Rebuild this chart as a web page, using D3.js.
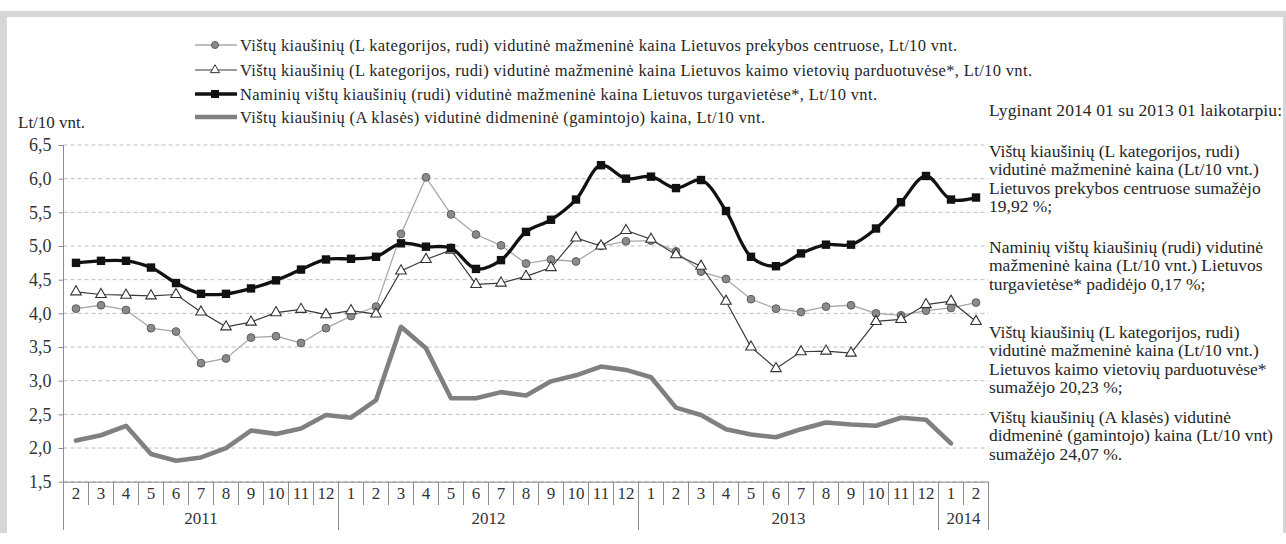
<!DOCTYPE html>
<html>
<head>
<meta charset="utf-8">
<script src="https://cdn.jsdelivr.net/npm/d3@7"></script>
<style>
  html, body { margin: 0; padding: 0; background: #fff; }
  svg { display: block; }
</style>
</head>
<body>
<svg id="chart" width="1286" height="544"></svg>
<script>
// ---------- DATA ----------
const years = [
  { year: "2011", months: [2,3,4,5,6,7,8,9,10,11,12] },
  { year: "2012", months: [1,2,3,4,5,6,7,8,9,10,11,12] },
  { year: "2013", months: [1,2,3,4,5,6,7,8,9,10,11,12] },
  { year: "2014", months: [1,2] }
];
const yTicks = [1.5, 2.0, 2.5, 3.0, 3.5, 4.0, 4.5, 5.0, 5.5, 6.0, 6.5];

const retailCentres = [4.07,4.12,4.05,3.78,3.73,3.26,3.33,3.64,3.66,3.56,3.78,
  3.96,4.10,5.18,6.02,5.47,5.17,5.01,4.74,4.80,4.77,5.00,5.07,
  5.08,4.92,4.62,4.51,4.21,4.07,4.02,4.10,4.12,4.00,3.97,4.04,
  4.08,4.16];
const ruralShops = [4.32,4.28,4.27,4.26,4.28,4.02,3.80,3.87,4.01,4.06,3.98,
  4.04,3.99,4.63,4.80,4.94,4.43,4.45,4.55,4.68,5.12,5.00,5.23,
  5.10,4.87,4.70,4.18,3.50,3.18,3.43,3.44,3.41,3.88,3.91,4.13,
  4.18,3.88];
const marketplaces = [4.75,4.78,4.78,4.68,4.45,4.29,4.29,4.37,4.49,4.65,4.80,
  4.81,4.84,5.04,4.99,4.97,4.66,4.79,5.21,5.39,5.69,6.20,6.00,
  6.03,5.86,5.98,5.52,4.84,4.70,4.89,5.02,5.02,5.26,5.65,6.04,
  5.69,5.72];
const wholesale = [2.11,2.19,2.33,1.91,1.81,1.86,2.00,2.26,2.21,2.29,2.49,
  2.45,2.71,3.80,3.48,2.74,2.74,2.83,2.78,2.99,3.08,3.21,3.16,
  3.05,2.60,2.49,2.28,2.20,2.16,2.28,2.38,2.35,2.33,2.45,2.42,
  2.07,null];

const legendLabels = [
  "Vištų kiaušinių (L kategorijos, rudi) vidutinė mažmeninė kaina Lietuvos prekybos centruose, Lt/10 vnt.",
  "Vištų kiaušinių (L kategorijos, rudi) vidutinė mažmeninė kaina Lietuvos kaimo vietovių parduotuvėse*, Lt/10 vnt.",
  "Naminių vištų kiaušinių (rudi) vidutinė mažmeninė kaina Lietuvos turgavietėse*, Lt/10 vnt.",
  "Vištų kiaušinių (A klasės) vidutinė didmeninė (gamintojo) kaina, Lt/10 vnt."
];
const yUnit = "Lt/10 vnt.";
const noteHeader = "Lyginant 2014 01 su 2013 01 laikotarpiu:";
const noteBlocks = [
  ["Vištų kiaušinių (L kategorijos, rudi)", "vidutinė mažmeninė kaina (Lt/10 vnt.)", "Lietuvos prekybos centruose sumažėjo", "19,92  %;"],
  ["Naminių vištų kiaušinių (rudi) vidutinė", "mažmeninė kaina  (Lt/10 vnt.) Lietuvos", "turgavietėse* padidėjo 0,17 %;"],
  ["Vištų kiaušinių (L kategorijos, rudi)", "vidutinė mažmeninė kaina (Lt/10 vnt.)", "Lietuvos kaimo vietovių parduotuvėse*", "sumažėjo 20,23 %;"],
  ["Vištų kiaušinių (A klasės) vidutinė", "didmeninė (gamintojo) kaina (Lt/10 vnt)", "sumažėjo 24,07 %."]
];

// ---------- LAYOUT ----------
const FONT = "'Liberation Serif', Tinos, 'Times New Roman', 'DejaVu Serif', serif";
const svg = d3.select("#chart");
const W = 1286, H = 544;
const plot = { left: 63.5, right: 988.5, top: 145, bottom: 481.7 };

// frame
const frameColor = "#d6d6d6";
svg.append("rect").attr("x", 0).attr("y", 11).attr("width", W).attr("height", 6).attr("fill", frameColor);
svg.append("rect").attr("x", 0).attr("y", 11).attr("width", 7).attr("height", 522).attr("fill", frameColor);
svg.append("rect").attr("x", W - 3).attr("y", 11).attr("width", 3).attr("height", 522).attr("fill", frameColor);

// categories
const cats = [];
years.forEach(y => y.months.forEach(m => cats.push({ year: y.year, month: m, key: y.year + "-" + m })));

const x = d3.scaleBand().domain(cats.map(c => c.key)).range([plot.left, plot.right]).padding(0);
const y = d3.scaleLinear().domain([1.5, 6.5]).range([plot.bottom, plot.top]);
const xc = i => x(cats[i].key) + x.bandwidth() / 2;

const axisColor = "#8c8c8c";

// gridlines
svg.append("g").selectAll("line").data(yTicks).join("line")
  .attr("x1", plot.left).attr("x2", plot.right)
  .attr("y1", d => y(d)).attr("y2", d => y(d))
  .attr("stroke", "#bdbdbd").attr("stroke-width", 1).attr("stroke-dasharray", "4,3");

// y axis
const yAxis = d3.axisLeft(y).tickValues(yTicks).tickSize(5).tickSizeOuter(0)
  .tickFormat(d => d.toFixed(1).replace(".", ","));
const gy = svg.append("g").attr("transform", `translate(${plot.left},0)`).call(yAxis);
gy.attr("font-family", null).attr("font-size", null);
gy.select(".domain").remove();
gy.selectAll(".tick line").attr("stroke", axisColor);
gy.selectAll(".tick text").attr("x", -12).style("font-size", "18px")
  .style("font-family", FONT).style("fill", "#333");
svg.append("line").attr("x1", plot.left).attr("x2", plot.left)
  .attr("y1", plot.top).attr("y2", 530).attr("stroke", axisColor);

// x axis (month labels)
const xAxis = d3.axisBottom(x).tickSize(0).tickSizeOuter(0)
  .tickFormat(k => k.split("-")[1]);
const gx = svg.append("g").attr("transform", `translate(0,${plot.bottom})`).call(xAxis);
gx.attr("font-family", null).attr("font-size", null);
gx.select(".domain").attr("stroke", axisColor);
gx.selectAll(".tick text").attr("y", 11).attr("dy", "0.35em").style("font-size", "17px")
  .style("font-family", FONT).style("fill", "#333");

// month separators
svg.append("g").selectAll("line").data(cats.slice(1)).join("line")
  .attr("x1", d => x(d.key)).attr("x2", d => x(d.key))
  .attr("y1", plot.bottom).attr("y2", 505).attr("stroke", axisColor);

// year separators and labels
let idx = 0;
const yearSpans = years.map(yr => {
  const s = x(cats[idx].key);
  idx += yr.months.length;
  const e = idx < cats.length ? x(cats[idx].key) : plot.right;
  return { year: yr.year, s, e };
});
svg.append("g").selectAll("line").data(yearSpans).join("line")
  .attr("x1", d => d.e).attr("x2", d => d.e)
  .attr("y1", plot.bottom).attr("y2", 530).attr("stroke", axisColor);
svg.append("g").selectAll("text").data(yearSpans).join("text")
  .attr("x", d => (d.s + d.e) / 2).attr("y", 518).attr("dy", "0.35em")
  .attr("text-anchor", "middle").style("font-size", "17px").style("font-family", FONT)
  .style("fill", "#333").text(d => d.year);

// ---------- SERIES ----------
const lineLin = d3.line().defined(d => d != null).x((d, i) => xc(i)).y(d => y(d));
const lineSmooth = d3.line().defined(d => d != null).x((d, i) => xc(i)).y(d => y(d))
  .curve(d3.curveCatmullRom.alpha(0.5));

svg.append("path").datum(wholesale).attr("d", lineLin)
  .attr("fill", "none").attr("stroke", "#808080").attr("stroke-width", 4.6)
  .attr("stroke-linejoin", "round").attr("stroke-linecap", "round");

svg.append("path").datum(retailCentres).attr("d", lineLin)
  .attr("fill", "none").attr("stroke", "#a8a8a8").attr("stroke-width", 1.3);
svg.append("g").selectAll("circle").data(retailCentres).join("circle")
  .attr("cx", (d, i) => xc(i)).attr("cy", d => y(d)).attr("r", 3.9)
  .attr("fill", "#8a8a8a").attr("stroke", "#5e5e5e").attr("stroke-width", 1);

svg.append("path").datum(ruralShops).attr("d", lineLin)
  .attr("fill", "none").attr("stroke", "#3a3a3a").attr("stroke-width", 1.2);
const tri = d3.symbol().type(d3.symbolTriangle).size(48);
svg.append("g").selectAll("path").data(ruralShops).join("path")
  .attr("d", tri).attr("transform", (d, i) => `translate(${xc(i)},${y(d)})`)
  .attr("fill", "#fff").attr("stroke", "#333").attr("stroke-width", 1.1);

svg.append("path").datum(marketplaces).attr("d", lineSmooth)
  .attr("fill", "none").attr("stroke", "#111").attr("stroke-width", 3.3);
svg.append("g").selectAll("rect").data(marketplaces).join("rect")
  .attr("x", (d, i) => xc(i) - 4.2).attr("y", d => y(d) - 4.2)
  .attr("width", 8.4).attr("height", 8.4).attr("fill", "#111");

// ---------- LEGEND ----------
const legRows = [45, 70, 94, 117];
const legWidths = [717, 792, 637, 525];
const legStyles = [
  { stroke: "#a8a8a8", w: 1.3 }, { stroke: "#3a3a3a", w: 1.2 },
  { stroke: "#111", w: 3.3 }, { stroke: "#808080", w: 4.6 }
];
const lg = svg.append("g");
legendLabels.forEach((lab, i) => {
  const ly = legRows[i];
  lg.append("line").attr("x1", 195).attr("x2", 237).attr("y1", ly).attr("y2", ly)
    .attr("stroke", legStyles[i].stroke).attr("stroke-width", legStyles[i].w);
  if (i === 0) lg.append("circle").attr("cx", 215).attr("cy", ly).attr("r", 3.5)
    .attr("fill", "#8a8a8a").attr("stroke", "#5e5e5e");
  if (i === 1) lg.append("path").attr("d", d3.symbol().type(d3.symbolTriangle).size(36))
    .attr("transform", `translate(215,${ly})`).attr("fill", "#fff").attr("stroke", "#333");
  if (i === 2) lg.append("rect").attr("x", 211).attr("y", ly - 4).attr("width", 8).attr("height", 8).attr("fill", "#111");
  lg.append("text").attr("x", 240).attr("y", ly).attr("dy", "0.35em")
    .attr("textLength", legWidths[i]).attr("lengthAdjust", "spacing")
    .style("font-size", "16.5px").style("font-family", FONT).style("fill", "#262626").text(lab);
});

svg.append("text").attr("x", 18).attr("y", 121.7).attr("dy", "0.35em")
  .style("font-size", "17px").style("font-family", FONT).style("fill", "#262626").text(yUnit);

// ---------- NOTES ----------
const notesX = 989;
svg.append("text").attr("x", notesX).attr("y", 110).attr("dy", "0.35em")
  .attr("textLength", 293).attr("lengthAdjust", "spacing")
  .style("font-size", "17.5px").style("font-family", FONT).style("fill", "#262626").text(noteHeader);
const blockStarts = [150.7, 246.7, 331.7, 416.7];
const lh = 18.4;
noteBlocks.forEach((blk, b) => {
  blk.forEach((ln, j) => {
    svg.append("text").attr("x", notesX).attr("y", blockStarts[b] + j * lh).attr("dy", "0.35em")
      .style("font-size", "17.5px").style("font-family", FONT).style("fill", "#262626").text(ln);
  });
});
</script>
</body>
</html>
